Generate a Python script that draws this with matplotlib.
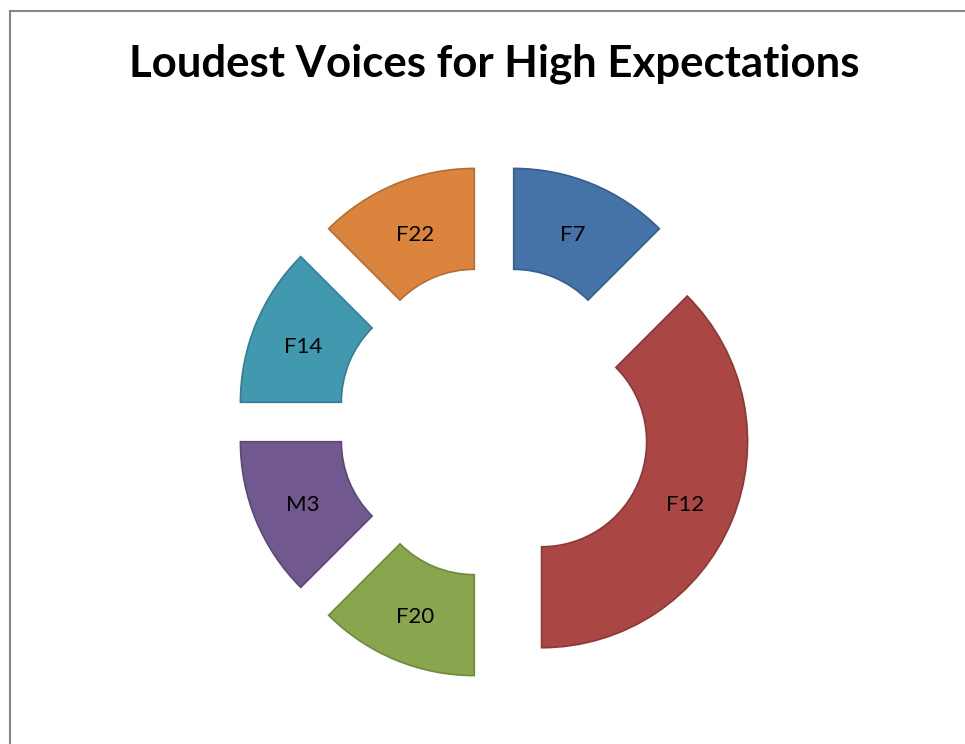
import matplotlib.pyplot as plt
from matplotlib.patches import Rectangle
from matplotlib.transforms import ScaledTranslation

# slices clockwise from 12 o'clock
labels = ["F7", "F12", "F20", "M3", "F14", "F22"]
counts = [1, 3, 1, 1, 1, 1]
colors = ["#4572A7", "#AA4643", "#89A54E", "#71588F", "#4198AF", "#DB843D"]
edges = ["#385D8A", "#8C3836", "#71893F", "#5C4776", "#357D91", "#B66D31"]

W, H = 965, 744
fig = plt.figure(figsize=(W / 100, H / 100), dpi=100)

# chart frame (only left and top edges visible)
fig.add_artist(Rectangle((10 / W, -0.2), 1.2, 1.2 - 11 / H, transform=fig.transFigure,
                         fill=False, edgecolor="#868686", linewidth=1.5))

fig.text(494 / W, (H - 77) / H, "Loudest Voices for High Expectations",
         ha="center", va="baseline", fontsize=31.5, fontweight="bold", family="Lato")

R = 206  # outer radius in px
lim = 1.5
cx, cy = 494, H - 422
ax = fig.add_axes([(cx - lim * R) / W, (cy - lim * R) / H, 2 * lim * R / W, 2 * lim * R / H])

wedges, texts = ax.pie(counts, labels=labels, colors=colors, startangle=90,
                       counterclock=False, explode=[0.25] * len(counts),
                       radius=1, labeldistance=0.755, frame=True,
                       wedgeprops=dict(width=0.49, linewidth=1.2),
                       textprops=dict(fontsize=16, family="Lato", color="black"))
ax.set_xlim(-lim, lim)
ax.set_ylim(-lim, lim)
ax.axis("off")
for w, ec in zip(wedges, edges):
    w.set_edgecolor(ec)
shift = ScaledTranslation(0, -4 / 100, fig.dpi_scale_trans)
for t in texts:
    t.set_ha("center")
    t.set_va("center")
    t.set_transform(t.get_transform() + shift)

fig.savefig("out.png", dpi=100)
